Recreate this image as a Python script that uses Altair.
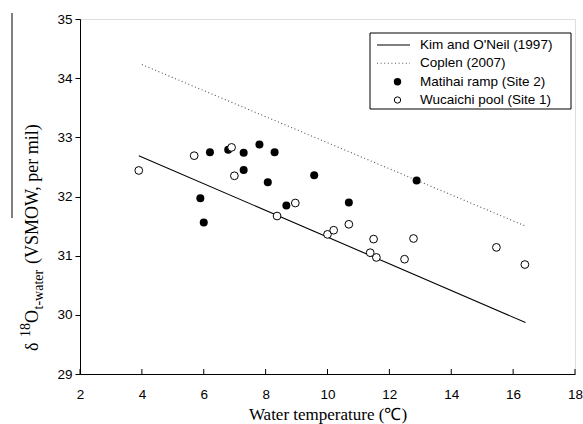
import altair as alt
import pandas as pd

# ---------------- data ----------------
matihai_temp = [6.20, 6.79, 7.29, 7.80, 8.29, 7.29, 8.07, 9.57, 5.89, 6.00, 8.67, 10.69, 12.88]
matihai_d18o = [32.75, 32.79, 32.74, 32.88, 32.75, 32.45, 32.24, 32.36, 31.97, 31.56, 31.85, 31.90, 32.27]

wucaichi_temp = [3.90, 5.69, 6.90, 6.99, 8.96, 8.37, 10.00, 10.20, 10.69, 11.49, 11.38, 11.58, 12.78, 12.49, 15.46, 16.38]
wucaichi_d18o = [32.44, 32.69, 32.83, 32.35, 31.89, 31.67, 31.36, 31.43, 31.53, 31.28, 31.05, 30.97, 31.29, 30.94, 31.14, 30.85]

kim_temp = [3.9, 16.4]
kim_d18o = [32.69, 29.87]

coplen_temp = [4.0, 16.4]
coplen_d18o = [34.23, 31.50]

x_ticks = [2, 4, 6, 8, 10, 12, 14, 16, 18]
y_ticks = [29, 30, 31, 32, 33, 34, 35]

legend_labels = ["Kim and O'Neil (1997)", "Coplen (2007)", "Matihai ramp (Site 2)", "Wucaichi pool (Site 1)"]
x_title = "Water temperature (℃)"

# ---------------- layout ----------------
W, H = 495, 355
SERIF = "Liberation Serif"
SANS = "Liberation Sans"

xs = alt.Scale(domain=[2, 18], nice=False, zero=False)
ys = alt.Scale(domain=[29, 35], nice=False, zero=False)

df_m = pd.DataFrame({"t": matihai_temp, "d": matihai_d18o})
df_w = pd.DataFrame({"t": wucaichi_temp, "d": wucaichi_d18o})
df_k = pd.DataFrame({"t": kim_temp, "d": kim_d18o})
df_c = pd.DataFrame({"t": coplen_temp, "d": coplen_d18o})
df_xt = pd.DataFrame({"t": x_ticks})
one = pd.DataFrame({"k": [0]})

x_axis = alt.Axis(values=x_ticks, format="d", title=x_title, titleFont=SERIF, titleFontSize=17,
                  titleFontWeight="normal", titleColor="black", titlePadding=6,
                  labelFont=SANS, labelFontSize=13.5, labelColor="black", labelPadding=13,
                  labelFlush=False, ticks=False, tickSize=0, grid=False,
                  domainColor="black")
y_axis = alt.Axis(values=y_ticks, format="d", title=None, labelFont=SANS, labelFontSize=13.5,
                  labelColor="black", labelPadding=3, tickSize=5, tickColor="black",
                  grid=False, domainColor="black")

kim = alt.Chart(df_k).mark_line(color="black", strokeWidth=1.1).encode(
    x=alt.X("t:Q", scale=xs, axis=x_axis),
    y=alt.Y("d:Q", scale=ys, axis=y_axis),
)
coplen = alt.Chart(df_c).mark_line(color="#555555", strokeWidth=1.1, strokeDash=[1, 2.6]).encode(
    x=alt.X("t:Q", scale=xs), y=alt.Y("d:Q", scale=ys))
matihai = alt.Chart(df_m).mark_point(shape="circle", filled=True, color="black", size=64, opacity=1).encode(
    x=alt.X("t:Q", scale=xs), y=alt.Y("d:Q", scale=ys))
wucaichi = alt.Chart(df_w).mark_point(shape="circle", filled=True, fill="white", stroke="black",
                                      strokeWidth=1, size=60, opacity=1).encode(
    x=alt.X("t:Q", scale=xs), y=alt.Y("d:Q", scale=ys))

# inward x ticks
xticks = alt.Chart(df_xt).mark_rule(color="black", strokeWidth=1).encode(
    x=alt.X("t:Q", scale=xs), y=alt.value(H), y2=alt.value(H - 5))

# ---------------- y title (rotated, with super/subscripts) ----------------
def rtext(txt, x, y, size):
    return alt.Chart(one).mark_text(text=txt, angle=270, align="left", baseline="alphabetic",
                                    font=SERIF, fontSize=size, color="black").encode(
        x=alt.value(x), y=alt.value(y))

s0 = 332
yt = [
    rtext("δ", -42, s0, 18),
    rtext("18", -50, s0 - 14, 14),
    rtext("O", -42, s0 - 28, 18),
    rtext("t-water", -37, s0 - 41.5, 14),
    rtext("(VSMOW, per mil)", -42, s0 - 87, 18),
]
overbar = alt.Chart(one).mark_rule(color="black", strokeWidth=1).encode(
    x=alt.value(-68), y=alt.value(-6), y2=alt.value(199))

# ---------------- legend ----------------
lx0, lx1, ly0, ly1 = 290, 491, 14, 90
rows = [26, 44.3, 62.7, 81]
box = alt.Chart(one).mark_rect(fill="white", stroke="black", strokeWidth=1).encode(
    x=alt.value(lx0), x2=alt.value(lx1), y=alt.value(ly0), y2=alt.value(ly1))
leg_kim = alt.Chart(one).mark_rule(color="black", strokeWidth=1.1).encode(
    x=alt.value(297), x2=alt.value(330), y=alt.value(rows[0]))
leg_cop = alt.Chart(one).mark_rule(color="#555555", strokeWidth=1.1, strokeDash=[1, 2.6]).encode(
    x=alt.value(297), x2=alt.value(330), y=alt.value(rows[1]))
leg_m = alt.Chart(one).mark_point(shape="circle", filled=True, color="black", size=55, opacity=1).encode(
    x=alt.value(317.5), y=alt.value(rows[2]))
leg_w = alt.Chart(one).mark_point(shape="circle", filled=True, fill="white", stroke="black",
                                  strokeWidth=1, size=40, opacity=1).encode(
    x=alt.value(317.5), y=alt.value(rows[3]))
leg_txt = [
    alt.Chart(one).mark_text(text=lab, align="left", baseline="middle", font=SANS,
                             fontSize=13.5, color="black").encode(x=alt.value(340), y=alt.value(r))
    for lab, r in zip(legend_labels, rows)
]

chart = alt.layer(
    kim, coplen, xticks, matihai, wucaichi, box, leg_kim, leg_cop, leg_m, leg_w, *leg_txt,
    overbar, *yt
).properties(
    width=W, height=H,
    autosize=alt.AutoSizeParams(type="none"),
    padding={"left": 80, "top": 19, "right": 8, "bottom": 50},
).configure_view(
    stroke="black", strokeWidth=1
).configure(background="white")

chart.save("out.html", embed_options={"renderer": "svg", "actions": False})
